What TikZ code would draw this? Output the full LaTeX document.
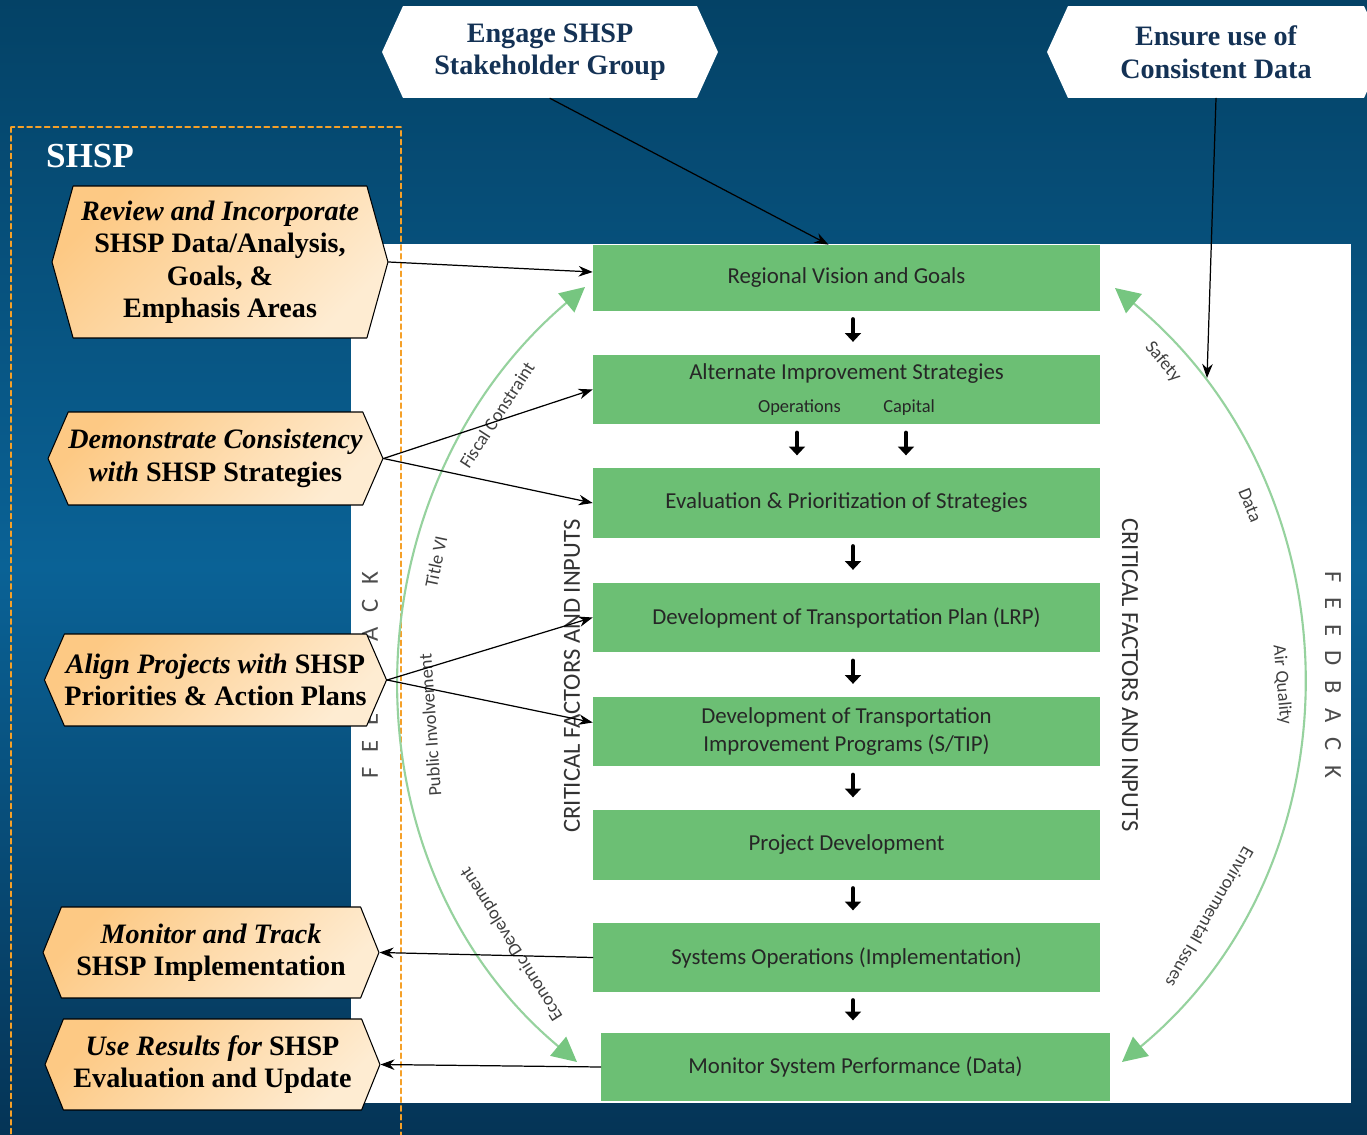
\documentclass[tikz,border=0pt]{standalone}
\usepackage{fontspec}
\newfontfamily\gfont{Carlito}
\newfontfamily\serfont{Liberation Serif}
\usepackage{xcolor}
\usetikzlibrary{arrows.meta,calc,positioning,shapes.symbols}

\definecolor{bgtop}{RGB}{4,66,102}
\definecolor{bgmid}{RGB}{10,98,150}
\definecolor{bgbot}{RGB}{5,52,86}
\definecolor{boxgreen}{RGB}{108,191,116}
\definecolor{arcgreen}{RGB}{150,210,158}
\definecolor{headgreen}{RGB}{118,198,128}
\definecolor{hexlight}{RGB}{254,236,210}
\definecolor{hexdark}{RGB}{253,201,132}
\definecolor{navytxt}{RGB}{20,50,85}
\definecolor{dashorange}{RGB}{245,160,40}

\tikzset{
  stepbox/.style={fill=boxgreen,minimum width=10.14cm,minimum height=1.4cm,inner sep=0pt,align=center,
    text=black!85,font=\gfont\fontsize{13}{16}\selectfont},
  hexbox/.style={shape=signal,signal to=east and west,draw=black,line width=0.6pt,
    top color=hexdark,bottom color=hexlight,shading angle=45,align=center,inner sep=0pt,
    font=\serfont\bfseries\fontsize{16}{18.5}\selectfont},
  topbox/.style={shape=signal,signal to=east and west,fill=white,align=center,inner sep=0pt,
    text=navytxt,font=\serfont\bfseries\fontsize{16}{18.5}\selectfont},
  flowarr/.style={line width=2.4pt,-{Triangle[length=5pt,width=9pt]},shorten <=4.5pt,shorten >=7pt},
  link/.style={black,line width=0.7pt,-{Stealth[length=8pt,width=6pt]}},
  arcline/.style={draw=arcgreen,line width=1.2pt,
    {Triangle[length=14pt,width=14pt,color=headgreen,fill=headgreen]}-{Triangle[length=14pt,width=14pt,color=headgreen,fill=headgreen]}},
  arclabel/.style={text=black!75,font=\gfont\fontsize{10.5}{12}\selectfont,inner sep=1pt},
  sidelabel/.style={text=black!80,font=\gfont\fontsize{14}{16}\selectfont,inner sep=1pt}
}

\begin{document}
\begin{tikzpicture}[x=0.02cm,y=-0.02cm,line cap=round,line join=round]
\useasboundingbox (0,0) rectangle (1367,1135);
\clip (0,0) rectangle (1367,1135);
% background and panel
\shade[top color=bgtop,bottom color=bgbot,middle color=bgmid] (0,0) rectangle (1367,1135);
\fill[white] (351,244) rectangle (1351,1103);
\draw[dashorange,line width=0.8pt,dash pattern=on 3pt off 2pt] (11,127) rectangle (401,1140);
\node[text=white,font=\serfont\bfseries\fontsize{20}{22}\selectfont] (title) at (90,156) {SHSP};

% feedback loops
\coordinate (lt) at (585,287);
\coordinate (lb) at (577,1062);
\coordinate (rt) at (1115,288);
\coordinate (rb) at (1122,1062);
\draw[arcline] (lt) .. controls (346,490) and (338,862) .. (lb);
\draw[arcline] (rt) .. controls (1360,490) and (1364,862) .. (rb);

\node[arclabel,rotate=57] (fiscal) at (497,415) {Fiscal Constraint};
\node[arclabel,rotate=78] (title6) at (436,562) {Title VI};
\node[arclabel,rotate=94] (public) at (430,725) {Public Involvement};
\node[arclabel,rotate=122] (econ) at (512,944) {Economic Development};
\node[arclabel,rotate=-50] (safety) at (1163,362) {Safety};
\node[arclabel,rotate=-68] (data) at (1250,505) {Data};
\node[arclabel,rotate=-85] (air) at (1282,685) {Air Quality};
\node[arclabel,rotate=-120] (env) at (1210,917) {Environmental Issues};

\node[sidelabel,rotate=90] (critl) at (572,676) {CRITICAL FACTORS AND INPUTS};
\node[sidelabel,rotate=-90] (critr) at (1130,675) {CRITICAL FACTORS AND INPUTS};
\node[sidelabel,rotate=90,text=black!70] (feedl) at (370,675)
  {F\hspace{0.6em}E\hspace{0.6em}E\hspace{0.6em}D\hspace{0.6em}B\hspace{0.6em}A\hspace{0.6em}C\hspace{0.6em}K};
\node[sidelabel,rotate=-90,text=black!70] (feedr) at (1333,675)
  {F\hspace{0.6em}E\hspace{0.6em}E\hspace{0.6em}D\hspace{0.6em}B\hspace{0.6em}A\hspace{0.6em}C\hspace{0.6em}K};

% planning steps
\node[stepbox,minimum height=1.32cm] (b1) at (846.5,278) {Regional Vision and Goals};
\node[stepbox] (b2) at (846.5,389.5) {Alternate Improvement Strategies\\[3pt]{\fontsize{10.5}{12}\selectfont Operations\hspace{0.85cm}Capital}};
\node[stepbox] (b3) at (846.5,503) {Evaluation \& Prioritization of Strategies};
\node[stepbox] (b4) at (846.5,617.5) {Development of Transportation Plan (LRP)};
\node[stepbox] (b5) at (846.5,731.5) {Development of Transportation\\Improvement Programs (S/TIP)};
\node[stepbox] (b6) at (846.5,845) {Project Development};
\node[stepbox,minimum height=1.38cm] (b7) at (846.5,957.5) {Systems Operations (Implementation)};
\node[stepbox,minimum width=10.18cm,minimum height=1.36cm] (b8) at (855.5,1067) {Monitor System Performance (Data)};

\draw[flowarr] ([xshift=0.13cm]b1.south) -- ([xshift=0.13cm]b1.south |- b2.north);
\draw[flowarr] ([xshift=-0.99cm]b2.south) -- ([xshift=-0.99cm]b2.south |- b3.north);
\draw[flowarr] ([xshift=1.19cm]b2.south) -- ([xshift=1.19cm]b2.south |- b3.north);
\draw[flowarr] ([xshift=0.13cm]b3.south) -- ([xshift=0.13cm]b3.south |- b4.north);
\draw[flowarr] ([xshift=0.13cm]b4.south) -- ([xshift=0.13cm]b4.south |- b5.north);
\draw[flowarr] ([xshift=0.13cm]b5.south) -- ([xshift=0.13cm]b5.south |- b6.north);
\draw[flowarr] ([xshift=0.13cm]b6.south) -- ([xshift=0.13cm]b6.south |- b7.north);
\draw[flowarr] ([xshift=0.13cm]b7.south) -- ([xshift=0.13cm]b7.south |- b8.north);

% SHSP actions
\node[topbox,minimum width=6.72cm,minimum height=1.84cm,signal pointer angle=131] (engage) at (550,52) {Engage SHSP\\Stakeholder Group};
\node[topbox,minimum width=6.76cm,minimum height=1.84cm,signal pointer angle=131] (ensure) at (1216,52) {Ensure use of\\Consistent Data};

\node[hexbox,minimum width=6.72cm,minimum height=3.04cm,signal pointer angle=149] (review) at (220,262)
  {\itshape Review and Incorporate\\SHSP Data/Analysis,\\Goals, \&\\Emphasis Areas};
\node[hexbox,minimum width=6.7cm,minimum height=1.86cm,signal pointer angle=133] (demo) at (215.5,458.5)
  {\itshape Demonstrate Consistency\\{\itshape with} SHSP Strategies};
\node[hexbox,minimum width=6.7cm,minimum height=1.84cm,signal pointer angle=133] (align) at (215.5,680)
  {{\itshape Align Projects with} SHSP\\Priorities \& Action Plans};
\node[hexbox,minimum width=6.72cm,minimum height=1.82cm,signal pointer angle=136] (track) at (211,952.5)
  {{\itshape Monitor and Track}\\SHSP Implementation};
\node[hexbox,minimum width=6.7cm,minimum height=1.82cm,signal pointer angle=136] (results) at (212.5,1064.5)
  {{\itshape Use Results for} SHSP\\Evaluation and Update};

\coordinate (safetypt) at (1207,378);
\draw[link] (engage.south) -- ([xshift=-0.36cm]b1.north);
\draw[link] (ensure.south) -- (safetypt);
\draw[link] (review.east) -- ([yshift=0.12cm]b1.west);
\draw[link] (demo.east) -- (b2.west);
\draw[link] (demo.east) -- (b3.west);
\draw[link] (align.east) -- (b4.west);
\draw[link] (align.east) -- ([yshift=0.18cm]b5.west);
\draw[link] (b7.west) -- (track.east);
\draw[link] (b8.west) -- (results.east);
\end{tikzpicture}
\end{document}
